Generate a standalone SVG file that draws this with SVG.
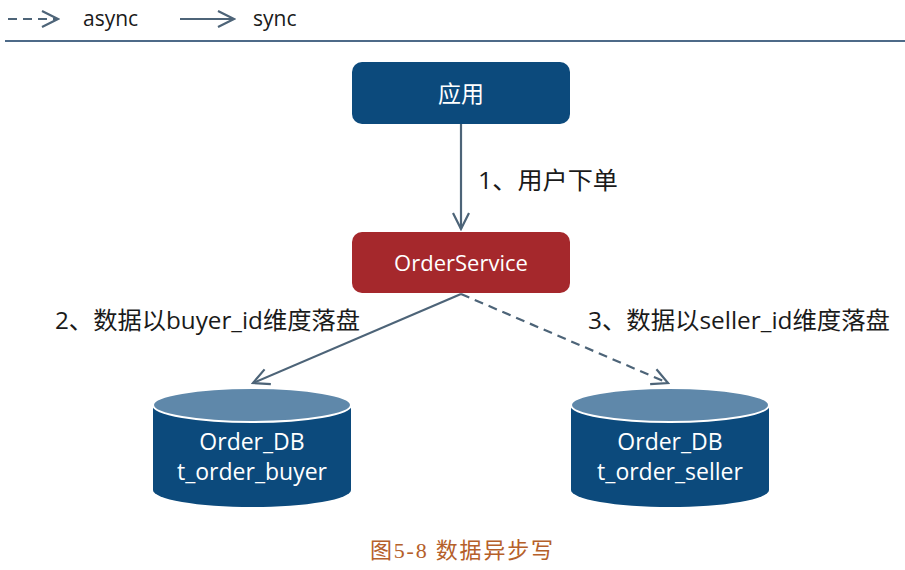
<svg xmlns="http://www.w3.org/2000/svg" width="905" height="570" viewBox="0 0 905 570">
<style>
.lbl{font-family:"Open Sans","Noto Sans CJK SC",sans-serif;font-size:21px;fill:#1a1a1a}
.big{font-size:24px}
.wt{font-family:"Open Sans","Noto Sans CJK SC",sans-serif;fill:#ffffff;text-anchor:middle}
.ln{stroke:#4d6478;stroke-width:2.2;fill:none}
.dash{stroke-dasharray:9,6}
</style>
<defs>
<marker id="v" viewBox="0 0 20 20" refX="18" refY="10" markerWidth="20" markerHeight="20" markerUnits="userSpaceOnUse" orient="auto">
<path d="M2,2 L18,10 L2,18" fill="none" stroke="#4d6478" stroke-width="2.2"/>
</marker>
</defs>
<rect width="905" height="570" fill="#ffffff"/>
<g id="legend">
<line class="ln dash" x1="8" y1="19" x2="58" y2="19" marker-end="url(#v)"/>
<text class="lbl" x="83" y="26">async</text>
<line class="ln" x1="180" y1="19" x2="234" y2="19" marker-end="url(#v)"/>
<text class="lbl" x="253" y="26">sync</text>
<line x1="5" y1="41" x2="905" y2="41" stroke="#4d6a88" stroke-width="2"/>
</g>
<g id="connectors">
<line class="ln" x1="461" y1="124" x2="461" y2="229" marker-end="url(#v)"/>
<line class="ln" x1="461" y1="294" x2="253" y2="383" marker-end="url(#v)"/>
<line class="ln dash" x1="461" y1="294" x2="668" y2="383" marker-end="url(#v)"/>
<text class="lbl big" x="478" y="189" textLength="140" lengthAdjust="spacingAndGlyphs">1、用户下单</text>
<text class="lbl big" x="55" y="329" textLength="305" lengthAdjust="spacingAndGlyphs">2、数据以buyer_id维度落盘</text>
<text class="lbl big" x="588" y="329" textLength="302" lengthAdjust="spacingAndGlyphs">3、数据以seller_id维度落盘</text>
</g>
<g id="app">
<rect x="352" y="62" width="218" height="62" rx="10" fill="#0c4a7c"/>
<text class="wt" x="461" y="102" font-size="23">应用</text>
</g>
<g id="orderservice">
<rect x="352" y="232" width="218" height="61" rx="10" fill="#a5282c"/>
<text class="wt" x="461" y="271" font-size="22">OrderService</text>
</g>
<g id="db-buyer">
<path d="M153,405 L153,490 A99,17 0 0 0 351,490 L351,405 Z" fill="#0c4a7c"/>
<ellipse cx="252" cy="405" rx="99" ry="17" fill="#5f88aa" stroke="#ffffff" stroke-width="2"/>
<text class="wt" x="252" y="450" font-size="23">Order_DB</text>
<text class="wt" x="252" y="480" font-size="23">t_order_buyer</text>
</g>
<g id="db-seller">
<path d="M571,405 L571,490 A99,17 0 0 0 769,490 L769,405 Z" fill="#0c4a7c"/>
<ellipse cx="670" cy="405" rx="99" ry="17" fill="#5f88aa" stroke="#ffffff" stroke-width="2"/>
<text class="wt" x="670" y="450" font-size="23">Order_DB</text>
<text class="wt" x="670" y="480" font-size="23">t_order_seller</text>
</g>
<text x="370" y="558" textLength="183" lengthAdjust="spacing" font-family="'Liberation Serif','Noto Sans CJK SC',serif" font-size="22" fill="#b5602a">图5-8 数据异步写</text>
</svg>
